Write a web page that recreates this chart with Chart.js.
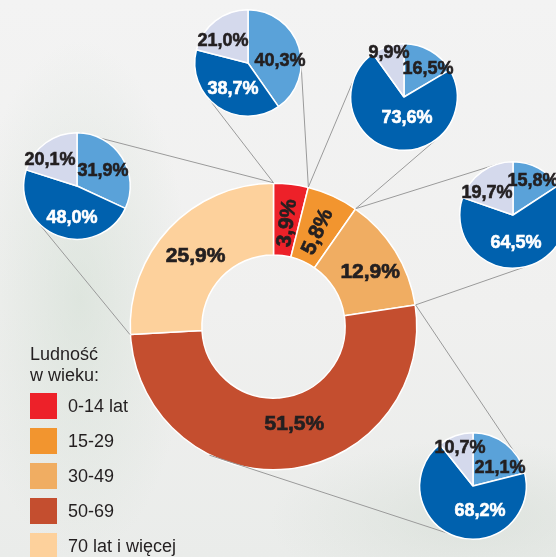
<!DOCTYPE html>
<html>
<head>
<meta charset="utf-8">
<script src="https://cdn.jsdelivr.net/npm/chart.js@4.4.1/dist/chart.umd.min.js"></script>
<style>
    html, body { margin: 0; padding: 0; }
    body {
        width: 556px; height: 557px; overflow: hidden; position: relative;
        font-family: 'Liberation Sans', Arial, sans-serif;
        background:
            radial-gradient(ellipse 110px 260px at 80px 300px, rgba(200, 216, 202, 0.45), rgba(200, 216, 202, 0) 100%),
            radial-gradient(ellipse 200px 80px at 470px 520px, rgba(205, 215, 205, 0.45), rgba(205, 215, 205, 0) 100%),
            linear-gradient(180deg, #f3f3f3 0%, #f0f0ef 55%, #eaecea 100%);
    }
    .box { position: absolute; }
    #legend { position: absolute; left: 30px; top: 344px; color: #231f20; font-size: 18px; }
    #legend .title { line-height: 21px; margin-bottom: 7px; }
    #legend .item { display: flex; align-items: center; height: 26px; margin-bottom: 9px; }
    #legend .swatch { width: 27px; height: 26px; margin-right: 11px; }
</style>
</head>
<body>
<div class="box" style="left:0;top:0;width:556px;height:557px"><canvas id="mainChart"></canvas></div>
<div id="pies"></div>
<div id="legend"></div>

<script>
// age groups of the main ring
const ageGroups = ['0-14 lat', '15-29', '30-49', '50-69', '70 lat i więcej'];
const populationShare = [3.9, 5.8, 12.9, 51.5, 25.9];

// small pies, one per age group (light blue, dark blue, lavender)
const lightShare = [40.3, 16.5, 15.8, 21.1, 31.9];
const darkShare = [38.7, 73.6, 64.5, 68.2, 48.0];
const lavenderShare = [21.0, 9.9, 19.7, 10.7, 20.1];

const ringColors = ['#ed2129', '#f2952f', '#f0ad62', '#c44e2f', '#fdd19c'];
const pieColors = ['#5aa2d9', '#0061ae', '#d4d9ec'];
const textDark = '#231f20';

Chart.defaults.font.family = "'Liberation Sans', Arial, sans-serif";
Chart.defaults.animation = false;
Chart.defaults.events = [];

// where the small pies sit (centre x, centre y), and label nudges from the pie centre
const piePad = 12;
const pieSize = 108;
const pieCentres = [[248, 63], [404, 97], [513, 215], [473, 486], [77, 186]];
const pieLabelOffsets = [
    [[32, -3], [-15, 25], [-25, -23]],
    [[24, -29], [3, 20], [-15, -45]],
    [[20, -35], [3, 27], [-26, -23]],
    [[27, -19], [7, 24], [-13, -39]],
    [[26, -16], [-5, 31], [-27, -27]]
];
// label nudges on the ring
const ringLabelNudge = [[0, 0], [0, 0], [8, 0], [10, -7], [-2, 0]];
// connectors: [ring slice, position along slice 0..1, angle on pie in degrees from top]
const connectors = [
    [[0, 0, 226], [0, 1, 93]],
    [[1, 0, 297], [1, 1, 139]],
    [[2, 0, 346], [2, 1, 167]],
    [[3, 0, 57], [3, 0.675, 206]],
    [[4, 0, 231], [4, 1, 3]]
];

function fmt(v) {
    return v.toFixed(1).replace('.', ',') + '%';
}

function boldText(ctx, txt, x, y) {
    ctx.strokeText(txt, x, y);
    ctx.fillText(txt, x, y);
}

const pieLabels = {
    id: 'pieLabels',
    afterDatasetsDraw(chart, args, opts) {
        const ctx = chart.ctx;
        const arcs = chart.getDatasetMeta(0).data;
        const values = chart.data.datasets[0].data;
        ctx.save();
        ctx.font = 'bold 18px ' + Chart.defaults.font.family;
        ctx.textAlign = 'center';
        ctx.textBaseline = 'middle';
        ctx.lineWidth = 0.6;
        arcs.forEach((arc, i) => {
            const off = opts.offsets[i];
            ctx.fillStyle = ctx.strokeStyle = i === 1 ? '#ffffff' : textDark;
            boldText(ctx, fmt(values[i]), arc.x + off[0], arc.y + off[1] + 1);
        });
        ctx.restore();
    }
};

const pieCharts = [];
const piesDiv = document.getElementById('pies');
pieCentres.forEach((c, k) => {
    const full = pieSize + 2 * piePad;
    const box = document.createElement('div');
    box.className = 'box';
    box.style.left = (c[0] - full / 2) + 'px';
    box.style.top = (c[1] - full / 2) + 'px';
    box.style.width = full + 'px';
    box.style.height = full + 'px';
    const cv = document.createElement('canvas');
    box.appendChild(cv);
    piesDiv.appendChild(box);

    const chart = new Chart(cv.getContext('2d'), {
        type: 'pie',
        data: {
            labels: ['a', 'b', 'c'],
            datasets: [{
                data: [lightShare[k], darkShare[k], lavenderShare[k]],
                backgroundColor: pieColors,
                borderColor: '#ffffff',
                borderWidth: 1.5
            }]
        },
        options: {
            responsive: true,
            maintainAspectRatio: false,
            layout: { padding: piePad },
            plugins: {
                legend: { display: false },
                tooltip: { enabled: false },
                pieLabels: { offsets: pieLabelOffsets[k] }
            }
        },
        plugins: [pieLabels]
    });
    pieCharts.push({ chart: chart, left: c[0] - full / 2, top: c[1] - full / 2 });
});

function pointOnArc(x, y, r, a) {
    return [x + r * Math.cos(a), y + r * Math.sin(a)];
}

const ringExtras = {
    id: 'ringExtras',
    afterDatasetsDraw(chart) {
        const ctx = chart.ctx;
        const arcs = chart.getDatasetMeta(0).data;
        const values = chart.data.datasets[0].data;

        // connector lines to the small pies
        ctx.save();
        ctx.strokeStyle = '#9a9a9a';
        ctx.lineWidth = 1;
        connectors.forEach((pair, k) => {
            const p = pieCharts[k];
            const pa = p.chart.getDatasetMeta(0).data[0];
            pair.forEach(([slice, t, deg]) => {
                const arc = arcs[slice];
                const a = arc.startAngle + (arc.endAngle - arc.startAngle) * t;
                const from = pointOnArc(arc.x, arc.y, arc.outerRadius + 0.5, a);
                const to = pointOnArc(p.left + pa.x, p.top + pa.y, pa.outerRadius, (deg - 90) * Math.PI / 180);
                ctx.beginPath();
                ctx.moveTo(from[0], from[1]);
                ctx.lineTo(to[0], to[1]);
                ctx.stroke();
            });
        });
        ctx.restore();

        // percentage labels
        ctx.save();
        ctx.font = 'bold 21px ' + Chart.defaults.font.family;
        ctx.textAlign = 'center';
        ctx.textBaseline = 'middle';
        ctx.fillStyle = ctx.strokeStyle = textDark;
        ctx.lineWidth = 0.7;
        arcs.forEach((arc, i) => {
            const mid = (arc.startAngle + arc.endAngle) / 2;
            const r = (arc.innerRadius + arc.outerRadius) / 2 - 3;
            let [x, y] = pointOnArc(arc.x, arc.y, r, mid);
            x += ringLabelNudge[i][0];
            y += ringLabelNudge[i][1];
            ctx.save();
            if (values[i] < 8) {
                ctx.translate(x, y);
                ctx.rotate(mid);
                boldText(ctx, fmt(values[i]), 0, 1);
            } else {
                boldText(ctx, fmt(values[i]), x, y + 1);
            }
            ctx.restore();
        });
        ctx.restore();
    }
};

new Chart(document.getElementById('mainChart').getContext('2d'), {
    type: 'doughnut',
    data: {
        labels: ageGroups,
        datasets: [{
            data: populationShare,
            backgroundColor: ringColors,
            borderColor: '#ffffff',
            borderWidth: 1.5
        }]
    },
    options: {
        responsive: true,
        maintainAspectRatio: false,
        cutout: '50%',
        layout: { padding: { left: 129.5, right: 138.5, top: 182.5, bottom: 86.5 } },
        plugins: {
            legend: { display: false },
            tooltip: { enabled: false }
        }
    },
    plugins: [ringExtras]
});

// legend
const legend = document.getElementById('legend');
let html = '<div class="title">Ludność<br>w wieku:</div>';
ageGroups.forEach((g, i) => {
    html += '<div class="item"><span class="swatch" style="background:' + ringColors[i] + '"></span><span>' + g + '</span></div>';
});
legend.innerHTML = html;
</script>
</body>
</html>
